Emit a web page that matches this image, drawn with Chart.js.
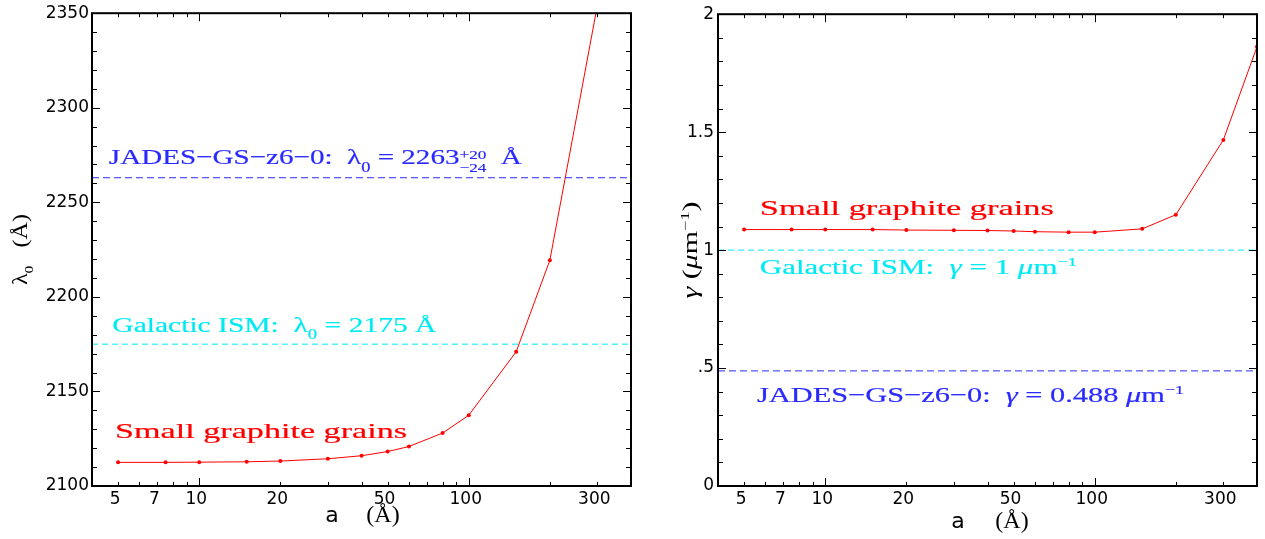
<!DOCTYPE html>
<html>
<head>
<meta charset="utf-8">
<script src="https://cdn.jsdelivr.net/npm/chart.js@4.4.1/dist/chart.umd.min.js"></script>
<style>
  body { margin: 0; background: #fff; width: 1265px; height: 539px; overflow: hidden; position: relative; }
  .panel { position: absolute; top: 0; height: 539px; }
  #left { left: 0; width: 660px; }
  #right { left: 660px; width: 605px; }
</style>
</head>
<body>
<div class="panel" id="left"><canvas id="lambdaChart"></canvas></div>
<div class="panel" id="right"><canvas id="gammaChart"></canvas></div>
<script>
// grain radius a (Angstrom)
var grainSizes = [5, 7.5, 10, 15, 20, 30, 40, 50, 60, 80, 100, 150, 200, 300, 400];
// bump peak lambda_0 (Angstrom), the 300 point sits just above the frame
var lambda0 = [2112.5, 2112.5, 2112.6, 2112.8, 2113.2, 2114.4, 2116.0, 2118.2, 2120.9, 2128.0, 2137.4, 2171.0, 2219.4, 2354.0];
// bump width gamma (um^-1)
var gammaWidth = [1.087, 1.087, 1.087, 1.087, 1.085, 1.084, 1.083, 1.081, 1.078, 1.076, 1.076, 1.090, 1.150, 1.467, 1.862];

var jadesLambda = 2263;
var ismLambda = 2175;
var jadesGamma = 0.488;
var ismGamma = 1;

var xRange = [4, 400];
var xTickLabels = [5, 7, 10, 20, 50, 100, 300];
var lambdaRange = [2100, 2350];
var lambdaTicks = [2100, 2150, 2200, 2250, 2300, 2350];
var gammaRange = [0, 2];
var gammaTicks = [0, 0.5, 1, 1.5, 2];
var gammaTickLabels = ["0", ".5", "1", "1.5", "2"];

var RED = "#ff0000";
var BLUE = "#2a2aff";
var CYAN = "#00eaf4";
var SERIF = '"Liberation Serif"';
var tickFont = { family: "DejaVu Sans", size: 17 };

function points(ys) {
    var out = [];
    for (var i = 0; i < ys.length; i++) out.push({ x: grainSizes[i], y: ys[i] });
    return out;
}
function flat(v) {
    return [{ x: xRange[0], y: v }, { x: xRange[1], y: v }];
}

// --- rich text helpers (sub/superscripts, stretched to a width) ---
function fontFor(seg, size) {
    var s = size;
    if (seg.k == "sub") s = Math.round(size * 0.65);
    if (seg.k == "sup") s = Math.round(size * 0.6);
    if (seg.k == "stack") s = Math.round(size * 0.6);
    return (seg.i ? "italic " : "") + s + "px " + SERIF;
}
function segWidth(ctx, seg, size) {
    ctx.font = fontFor(seg, size);
    if (seg.k == "stack") return Math.max(ctx.measureText(seg.up).width, ctx.measureText(seg.dn).width);
    return ctx.measureText(seg.t).width;
}
function put(ctx, t, x, y, stroke) {
    ctx.fillText(t, x, y);
    if (stroke) ctx.strokeText(t, x, y);
}
function drawRich(ctx, segs, x, y, w, size, color, stroke) {
    var nat = 0;
    for (var i = 0; i < segs.length; i++) nat += segWidth(ctx, segs[i], size);
    ctx.save();
    ctx.translate(x, y);
    ctx.scale(w / nat, 1);
    ctx.fillStyle = color;
    ctx.strokeStyle = color;
    ctx.lineWidth = 0.2;
    ctx.textAlign = "left";
    ctx.textBaseline = "alphabetic";
    var cx = 0;
    for (var i = 0; i < segs.length; i++) {
        var s = segs[i];
        var sw = segWidth(ctx, s, size);
        if (s.k == "stack") {
            put(ctx, s.up, cx, -size * 0.26, stroke);
            put(ctx, s.dn, cx, size * 0.34, stroke);
        } else {
            var dy = 0;
            if (s.k == "sub") dy = size * 0.32;
            if (s.k == "sup") dy = -size * 0.4;
            put(ctx, s.t, cx, dy, stroke);
        }
        cx += sw;
    }
    ctx.restore();
}

function logTicks() {
    var minor = [], major = [];
    for (var d = 1; d <= 100; d *= 10) {
        for (var m = 1; m <= 9; m++) {
            var v = m * d;
            if (v < xRange[0] || v > xRange[1]) continue;
            if (m == 1) major.push(v); else minor.push(v);
        }
    }
    return { minor: minor, major: major };
}

function frameTicks(cfg) {
    return {
        id: "frameTicks",
        afterDraw: function(chart) {
            var ctx = chart.ctx, a = chart.chartArea;
            var xs = chart.scales.x, ys = chart.scales.y;
            ctx.save();
            ctx.strokeStyle = "#000";
            ctx.lineWidth = 1;
            var lt = logTicks();
            function xt(v, len) {
                var p = Math.round(xs.getPixelForValue(v)) + 0.5;
                ctx.beginPath();
                ctx.moveTo(p, a.bottom); ctx.lineTo(p, a.bottom - len);
                ctx.moveTo(p, a.top); ctx.lineTo(p, a.top + len);
                ctx.stroke();
            }
            lt.minor.forEach(function(v) { xt(v, 4); });
            lt.major.forEach(function(v) { xt(v, 8); });
            for (var v = cfg.yMin; v <= cfg.yMax + 1e-9; v += cfg.yMinorStep) {
                var major = Math.abs(Math.round(v / cfg.yMajorStep) * cfg.yMajorStep - v) < 1e-6;
                var len = major ? 8 : 5;
                var p = Math.round(ys.getPixelForValue(v)) + 0.5;
                ctx.beginPath();
                ctx.moveTo(a.left, p); ctx.lineTo(a.left + len, p);
                ctx.moveTo(a.right, p); ctx.lineTo(a.right - len, p);
                ctx.stroke();
            }
            ctx.lineWidth = 2;
            ctx.strokeRect(a.left, a.top, a.right - a.left, a.bottom - a.top);

            // annotations
            cfg.notes.forEach(function(n) {
                drawRich(ctx, n.segs, xs.getPixelForValue(n.x), ys.getPixelForValue(n.y), n.w, 22, n.color, true);
            });

            // y title (rotated)
            ctx.save();
            ctx.translate(a.left + cfg.yTitle.dx, (a.top + a.bottom) / 2);
            ctx.rotate(-Math.PI / 2);
            drawRich(ctx, cfg.yTitle.segs, -cfg.yTitle.w / 2, 0, cfg.yTitle.w, 20, "#000", false);
            ctx.restore();

            // x title
            ctx.fillStyle = "#000";
            ctx.textAlign = "center";
            ctx.textBaseline = "alphabetic";
            ctx.font = "22px DejaVu Sans";
            ctx.fillText("a", a.left + 240, a.bottom + cfg.xTitleDy);
            ctx.font = "24px " + SERIF;
            ctx.fillText("(Å)", a.left + cfg.xTitleParen, a.bottom + cfg.xTitleDy);
            ctx.restore();
        }
    };
}

function makeChart(id, datasets, yScale, padRight, yWidth, decor) {
    return new Chart(document.getElementById(id), {
        type: "scatter",
        data: { datasets: datasets },
        options: {
            responsive: true,
            maintainAspectRatio: false,
            animation: false,
            layout: { padding: { top: 11, right: padRight, left: 0, bottom: 0 } },
            plugins: { legend: { display: false }, tooltip: { enabled: false } },
            scales: {
                x: {
                    type: "logarithmic",
                    min: xRange[0],
                    max: xRange[1],
                    grid: { display: false, drawTicks: false },
                    border: { display: false },
                    afterBuildTicks: function(s) { s.ticks = xTickLabels.map(function(v) { return { value: v }; }); },
                    afterFit: function(s) { s.height = 53; },
                    ticks: {
                        font: tickFont, color: "#000", padding: 3, labelOffset: -3,
                        maxRotation: 0, autoSkip: false,
                        callback: function(v) { return String(v); }
                    }
                },
                y: Object.assign({
                    grid: { display: false, drawTicks: false },
                    border: { display: false },
                    afterFit: function(s) { s.width = yWidth; }
                }, yScale)
            }
        },
        plugins: [frameTicks(decor)]
    });
}

function lineSet(data, color, dash) {
    return {
        data: data, showLine: true, borderColor: color, backgroundColor: color,
        borderWidth: 1, borderDash: dash || [], pointRadius: dash ? 0 : 2,
        pointBorderWidth: 0, tension: 0
    };
}

makeChart("lambdaChart", [
    lineSet(flat(jadesLambda), BLUE, [7, 4]),
    lineSet(flat(ismLambda), CYAN, [6, 4]),
    lineSet(points(lambda0), RED)
], {
    min: lambdaRange[0], max: lambdaRange[1],
    afterBuildTicks: function(s) { s.ticks = lambdaTicks.map(function(v) { return { value: v }; }); },
    ticks: { font: tickFont, color: "#000", padding: 3, callback: function(v) { return String(v); } }
}, 29, 92, {
    yMin: 2100, yMax: 2350, yMinorStep: 10, yMajorStep: 50,
    xTitleDy: 36, xTitleParen: 291,
    yTitle: { dx: -65, w: 71, segs: [{ t: "λ" }, { k: "sub", t: "0" }, { t: "   (Å)" }] },
    notes: [
        { x: 4.62, y: 2270, w: 413, color: BLUE,
          segs: [{ t: "JADES−GS−z6−0:  λ" }, { k: "sub", t: "0" }, { t: " = 2263" }, { k: "stack", up: "+20", dn: "−24" }, { t: "  Å" }] },
        { x: 4.76, y: 2181.6, w: 324, color: CYAN,
          segs: [{ t: "Galactic ISM:  λ" }, { k: "sub", t: "0" }, { t: " = 2175 Å" }] },
        { x: 4.87, y: 2125.3, w: 292, color: RED, segs: [{ t: "Small graphite grains" }] }
    ]
});

makeChart("gammaChart", [
    lineSet(flat(ismGamma), CYAN, [6, 4]),
    lineSet(flat(jadesGamma), BLUE, [7, 4]),
    lineSet(points(gammaWidth), RED)
], {
    min: gammaRange[0], max: gammaRange[1],
    afterBuildTicks: function(s) { s.ticks = gammaTicks.map(function(v) { return { value: v }; }); },
    ticks: { font: tickFont, color: "#000", padding: 4,
             callback: function(v) { return gammaTickLabels[gammaTicks.indexOf(v)]; } }
}, 8, 58, {
    yMin: 0, yMax: 2, yMinorStep: 0.1, yMajorStep: 0.5,
    xTitleDy: 42, xTitleParen: 294,
    yTitle: { dx: -21, w: 97, segs: [{ t: "γ", i: 1 }, { t: " (" }, { t: "μ", i: 1 }, { t: "m" }, { k: "sup", t: "−1" }, { t: ")" }] },
    notes: [
        { x: 5.72, y: 1.149, w: 294, color: RED, segs: [{ t: "Small graphite grains" }] },
        { x: 5.72, y: 0.897, w: 317, color: CYAN,
          segs: [{ t: "Galactic ISM:  " }, { t: "γ", i: 1 }, { t: " = 1 " }, { t: "μ", i: 1 }, { t: "m" }, { k: "sup", t: "−1" }] },
        { x: 5.58, y: 0.354, w: 427, color: BLUE,
          segs: [{ t: "JADES−GS−z6−0:  " }, { t: "γ", i: 1 }, { t: " = 0.488 " }, { t: "μ", i: 1 }, { t: "m" }, { k: "sup", t: "−1" }] }
    ]
});
</script>
</body>
</html>
